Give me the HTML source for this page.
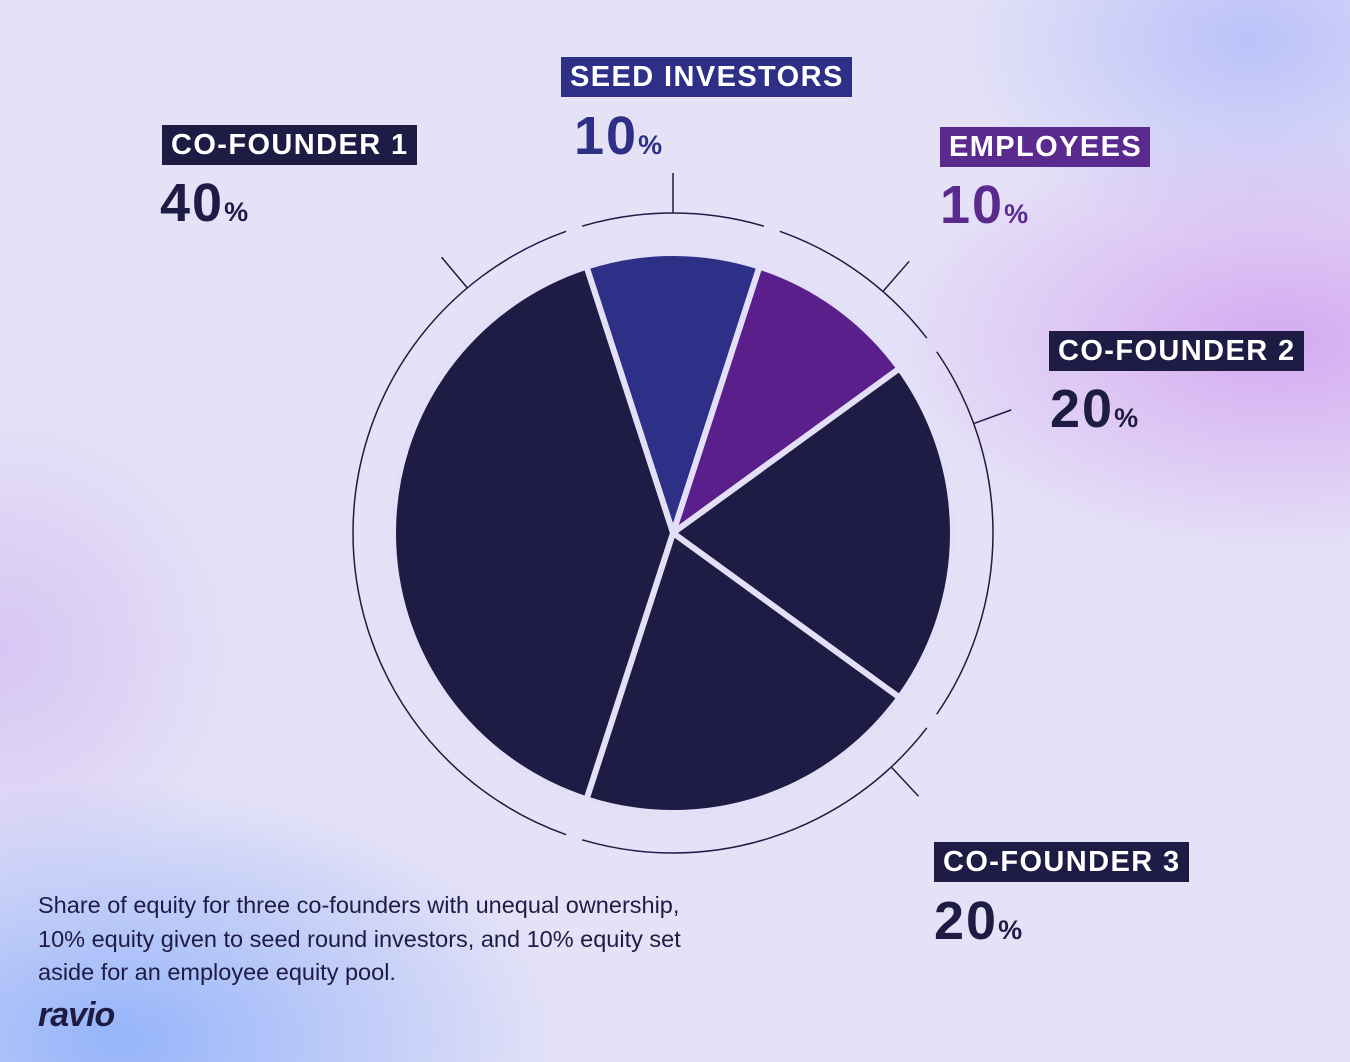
<!DOCTYPE html>
<html><head><meta charset="utf-8"><style>
body{margin:0;width:1350px;height:1062px;overflow:hidden;font-family:"Liberation Sans",sans-serif;}
#bg{position:absolute;left:0;top:0;width:1350px;height:1062px;
background:
radial-gradient(ellipse 400px 220px at 1280px 340px, rgba(210,160,240,0.85), rgba(210,160,240,0) 100%),
radial-gradient(ellipse 300px 200px at 1250px 40px, rgba(170,180,250,0.7), rgba(170,180,250,0) 100%),
radial-gradient(ellipse 450px 260px at 120px 1040px, rgba(140,175,250,0.9), rgba(140,175,250,0) 100%),
radial-gradient(ellipse 250px 250px at 0px 650px, rgba(200,170,240,0.5), rgba(200,170,240,0) 100%),
#e5e2f7;}
.lbl{position:absolute;color:#fff;font-weight:bold;font-size:29px;letter-spacing:1.4px;padding:0 8px 0 9px;height:40px;line-height:41px;}
.pct{position:absolute;font-weight:bold;font-size:54px;letter-spacing:2px;line-height:50px;}
.pct span{font-size:27px;letter-spacing:0;}
#cap{position:absolute;left:38px;top:889px;font-size:23.5px;line-height:33.5px;color:#1e1b45;}
#logo{position:absolute;left:38px;top:996px;font-size:34px;font-weight:bold;font-style:italic;color:#1e1b45;letter-spacing:-1px;}
</style></head><body>
<div id="bg"></div>
<svg id="chart" width="1350" height="1062" style="position:absolute;left:0;top:0"></svg>
<div class="lbl" style="left:162px;top:125px;background:#1e1b45">CO-FOUNDER 1</div>
<div class="pct" style="left:160px;top:178px;color:#1e1b45">40<span>%</span></div>
<div class="lbl" style="left:561px;top:57px;background:#2e2f86">SEED INVESTORS</div>
<div class="pct" style="left:574px;top:111px;color:#2e2f86">10<span>%</span></div>
<div class="lbl" style="left:940px;top:127px;background:#5a2a8f">EMPLOYEES</div>
<div class="pct" style="left:940px;top:180px;color:#5a2a8f">10<span>%</span></div>
<div class="lbl" style="left:1049px;top:331px;background:#1e1b45">CO-FOUNDER 2</div>
<div class="pct" style="left:1050px;top:384px;color:#1e1b45">20<span>%</span></div>
<div class="lbl" style="left:934px;top:842px;background:#1e1b45">CO-FOUNDER 3</div>
<div class="pct" style="left:934px;top:896px;color:#1e1b45">20<span>%</span></div>
<div id="cap">Share of equity for three co-founders with unequal ownership,<br>10% equity given to seed round investors, and 10% equity set<br>aside for an employee equity pool.</div>
<div id="logo">ravio</div>
<script>
const categories=["Seed investors","Employees","Co-founder 2","Co-founder 3","Co-founder 1"];
const values=[10,10,20,20,40];
const colors=["#2e2f86","#5a1f8a","#1e1b45","#1e1b45","#1e1b45"];
const tickAngles=[0,41,70,137,-40];
const svg=document.getElementById('chart');
const NS="http://www.w3.org/2000/svg";
const cx=673,cy=533,R=280,RR=320;
const total=values.reduce((a,b)=>a+b,0);
function pt(a,r){const t=(a-90)*Math.PI/180;return [cx+r*Math.cos(t),cy+r*Math.sin(t)];}
let start=-values[0]/total*180;
values.forEach((v,i)=>{
  const sweep=v/total*360,end=start+sweep;
  const p1=pt(start,R),p2=pt(end,R);
  const path=document.createElementNS(NS,'path');
  path.setAttribute('d',`M${cx},${cy}L${p1[0]},${p1[1]}A${R},${R} 0 ${sweep>180?1:0} 1 ${p2[0]},${p2[1]}Z`);
  path.setAttribute('fill',colors[i]);path.setAttribute('stroke','#e3dff6');path.setAttribute('stroke-width','6');path.setAttribute('stroke-linejoin','round');
  
  
  svg.appendChild(path);
  const g=1.5,q1=pt(start+g,RR),q2=pt(end-g,RR);
  const arc=document.createElementNS(NS,'path');
  arc.setAttribute('d',`M${q1[0]},${q1[1]}A${RR},${RR} 0 ${sweep>180?1:0} 1 ${q2[0]},${q2[1]}`);
  arc.setAttribute('fill','none');arc.setAttribute('stroke','#1e1b45');arc.setAttribute('stroke-width','1.5');
  
  
  svg.appendChild(arc);
  start=end;
});
tickAngles.forEach(a=>{
  const a1=pt(a,RR),a2=pt(a,RR+40);
  const l=document.createElementNS(NS,'line');
  l.setAttribute('x1',a1[0]);l.setAttribute('y1',a1[1]);l.setAttribute('x2',a2[0]);l.setAttribute('y2',a2[1]);
  l.setAttribute('stroke','#1e1b45');l.setAttribute('stroke-width','1.5');
  
  
  svg.appendChild(l);
});
</script>
</body></html>
